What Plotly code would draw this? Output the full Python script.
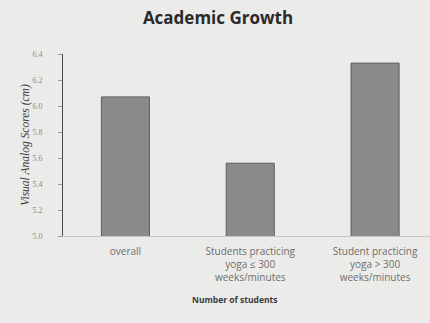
import plotly.graph_objects as go

# Mean visual analog scores per student group
categories = ["overall", "yoga_le_300", "yoga_gt_300"]
tick_labels = [
    "overall",
    "Students practicing<br>yoga \u2264 300<br>weeks/minutes",
    "Student practicing<br>yoga > 300<br>weeks/minutes",
]
scores = [6.07, 5.56, 6.33]
y_ticks = [5.0, 5.2, 5.4, 5.6, 5.8, 6.0, 6.2, 6.4]

fig = go.Figure()
fig.add_trace(go.Bar(
    x=categories,
    y=scores,
    marker=dict(color="#8a8a8a", line=dict(color="#5e5e5e", width=1)),
    base=0,
))

fig.update_layout(
    width=430, height=323,
    margin=dict(l=63, r=0, t=54, b=87),
    paper_bgcolor="#ebebe9",
    plot_bgcolor="#ebebe9",
    bargap=0.615,
    showlegend=False,
    title=dict(
        text="<b>Academic Growth</b>",
        x=0.507, xanchor="center", y=0.945, yanchor="middle",
        font=dict(family="Open Sans", size=17, color="#2a2a2a"),
    ),
    font=dict(family="Open Sans", color="#6a6a6a", size=8),
)

fig.update_xaxes(
    range=[-0.5, 2.44],
    tickmode="array", tickvals=categories, ticktext=tick_labels,
    tickfont=dict(size=10, color="#6e6e6e"),
    showline=True, linecolor="#c4c4c4", linewidth=1,
    ticks="", ticklabelstandoff=6,
    showgrid=False,
)

fig.add_annotation(
    text="<b>Number of students</b>",
    xref="paper", yref="paper", x=(234 - 63) / 367, y=(236 - 299) / 182,
    xanchor="center", yanchor="middle", showarrow=False,
    font=dict(size=8.5, color="#3a3a3a"),
)

fig.update_yaxes(
    range=[5.0, 6.4],
    tickmode="array", tickvals=y_ticks,
    ticktext=[f"{v:.1f}" for v in y_ticks],
    tickfont=dict(family="Liberation Serif", size=8, color="#8a8a8a"),
    showline=True, linecolor="#4a4a4a", linewidth=1,
    ticks="outside", ticklen=4, tickcolor="#9a9a9a",
    ticklabelstandoff=14,
    showgrid=False, zeroline=False,
    title=dict(text="<i>Visual Analog Scores (cm)</i>",
               font=dict(family="Liberation Serif", size=11.5, color="#3a3a3a"),
               standoff=0),
)

fig.write_html("out.html")
